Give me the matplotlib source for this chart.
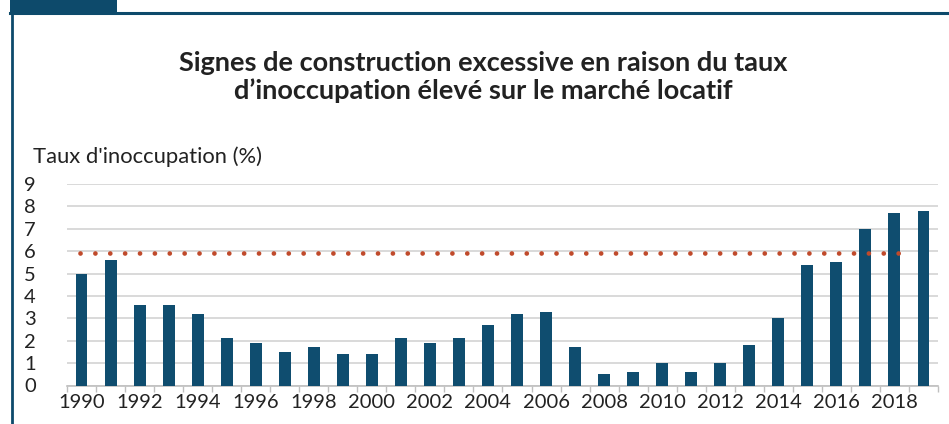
import matplotlib
matplotlib.use("Agg")
import matplotlib.pyplot as plt
from matplotlib.patches import Rectangle
from matplotlib.lines import Line2D
import numpy as np

years = list(range(1990, 2020))
vacancy = [5.0, 5.6, 3.6, 3.6, 3.2, 2.1, 1.9, 1.5, 1.7, 1.4,
           1.4, 2.1, 1.9, 2.1, 2.7, 3.2, 3.3, 1.7, 0.5, 0.6,
           1.0, 0.6, 1.0, 1.8, 3.0, 5.4, 5.5, 7.0, 7.7, 7.8]
threshold = 5.9
threshold_span = (-0.05, 28.6)
yticks = list(range(0, 10))
xlabels = [str(y) for y in years if y % 2 == 0]

title = "Signes de construction excessive en raison du taux\nd\u2019inoccupation élevé sur le marché locatif"
ylabel = "Taux d'inoccupation (%)"

plt.rcParams['font.family'] = ['Lato', 'DejaVu Sans']

W, H = 949, 424
fig = plt.figure(figsize=(W / 100, H / 100), dpi=100)

navy = "#0d4a6b"
bar_c = "#0f4d6f"
dot_c = "#c04a2b"
grid_c = "#d9d9d9"

# frame decorations
fig.patches.append(Rectangle((10 / W, 1 - 13 / H), 107 / W, 13 / H, transform=fig.transFigure,
                             facecolor=navy, edgecolor='none'))
fig.lines.append(Line2D([10 / W, 1], [1 - 13 / H, 1 - 13 / H], transform=fig.transFigure,
                        color=navy, lw=2.2))
fig.lines.append(Line2D([11.5 / W, 11.5 / W], [0, 1], transform=fig.transFigure,
                        color=navy, lw=2.0))

ax = fig.add_axes([67 / W, (H - 385.5) / H, 871 / W, (385.5 - 184) / H])
x = np.arange(len(years))
ax.bar(x, vacancy, width=0.41, color=bar_c, zorder=3)
ax.plot(list(threshold_span), [threshold, threshold], color=dot_c, lw=3.4,
        linestyle=(0, (0.01, 3.14)), dash_capstyle='round', zorder=4)

ax.set_xlim(-0.5, len(years) - 0.5)
ax.set_ylim(0, 9)
ax.set_yticks(yticks)
ax.set_yticklabels([str(v) for v in yticks], fontsize=14.5, color="#222222")
for lab in ax.get_yticklabels():
    lab.set_horizontalalignment('left')
ax.tick_params(axis='y', length=0, pad=31)
ax.grid(axis='y', color=grid_c, lw=1.4, zorder=0)

# boundary ticks (major) without labels, labels at even-year centres (minor)
ax.set_xticks(np.arange(-0.5, len(years), 1.0))
ax.set_xticklabels([])
ax.tick_params(axis='x', which='major', length=4, color="#bfbfbf", width=1)
label_pos = [i for i, y in enumerate(years) if y % 2 == 0]
ax.set_xticks(label_pos, minor=True)
ax.set_xticklabels(xlabels, minor=True, fontsize=14.5, color="#222222")
ax.tick_params(axis='x', which='minor', length=0, pad=6)

for s in ['top', 'right', 'left']:
    ax.spines[s].set_visible(False)
ax.spines['bottom'].set_color("#bfbfbf")
ax.spines['bottom'].set_linewidth(1.2)
ax.set_axisbelow(True)

fig.text(483 / W, 1 - 77 / H, title, ha='center', va='center', fontsize=19.5,
         fontweight='bold', color="#222222", linespacing=1.15)
fig.text(33 / W, 1 - 157 / H, ylabel, ha='left', va='center', fontsize=15.8, color="#222222")

fig.savefig("out.png", dpi=100)
